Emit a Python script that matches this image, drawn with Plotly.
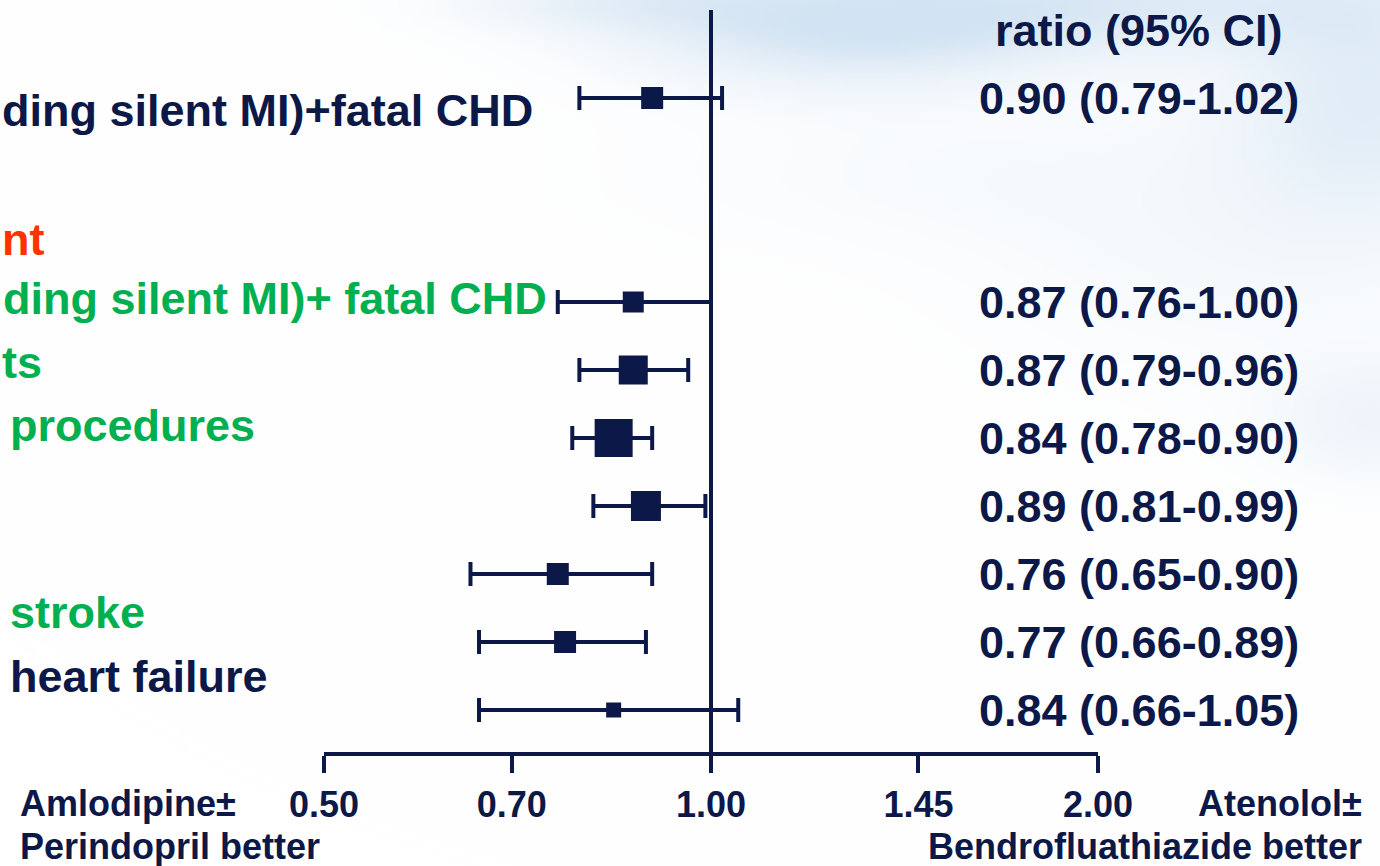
import base64, struct, zlib
import numpy as np
import plotly.graph_objects as go

# ---------------- data ----------------
rows = [
    "Non-fatal MI (including silent MI)+fatal CHD",
    "Non-fatal MI (excluding silent MI)+ fatal CHD",
    "Total coronary events",
    "Total CV events and procedures",
    "All-cause mortality",
    "Cardiovascular mortality",
    "Fatal and non-fatal stroke",
    "Fatal and non-fatal heart failure",
]
hr = [0.90, 0.87, 0.87, 0.84, 0.89, 0.76, 0.77, 0.84]
ci_low = [0.79, 0.76, 0.79, 0.78, 0.81, 0.65, 0.66, 0.66]
ci_high = [1.02, 1.00, 0.96, 0.90, 0.99, 0.90, 0.89, 1.05]
weights = [22, 21, 29, 38, 30, 22, 22, 15]  # relative square sizes
tick_vals = [0.50, 0.70, 1.00, 1.45, 2.00]
tick_text = ["0.50", "0.70", "1.00", "1.45", "2.00"]

# slot order (top to bottom), including header / spacer slots
slots = ["hdr", rows[0], "gap", "sec"] + rows[1:]

NAVY = "#0C1848"
GREEN = "#00B050"
RED = "#FF3300"
FONT = "Liberation Sans, Arial, sans-serif"

W, H = 1380, 866
L, R, T, B = 324, 282, 10, 114


def px_x(px):
    return (px - L) / (W - L - R)


def px_y(py):
    return 1 - (py - T) / (H - T - B)


# ---------------- soft sky background (generated) ----------------
def sky_png():
    sw, sh = 345, 217
    xs = np.linspace(0, W, sw)[None, :]
    ys = np.linspace(0, H, sh)[:, None]
    blobs = [
        (850, 30, 220, 55, 0.55),
        (1100, 0, 300, 50, 0.45),
        (1370, 90, 140, 130, 0.45),
        (620, 0, 160, 30, 0.30),
        (1380, 420, 110, 60, 0.25),
        (1220, 260, 240, 120, 0.12),
        (950, 170, 300, 80, 0.10),
    ]
    inten = np.zeros((sh, sw))
    for cx, cy, sx, sy, a in blobs:
        inten += a * np.exp(-(((xs - cx) / sx) ** 2 + ((ys - cy) / sy) ** 2))
    inten = np.clip(inten, 0, 0.7)
    blue = np.array([192, 216, 238], dtype=float)
    img = 255 * (1 - inten[..., None]) + blue * inten[..., None]
    img = img.astype(np.uint8)
    raw = b"".join(b"\x00" + img[i].tobytes() for i in range(sh))

    def chunk(t, d):
        return struct.pack(">I", len(d)) + t + d + struct.pack(">I", zlib.crc32(t + d) & 0xFFFFFFFF)

    png = (b"\x89PNG\r\n\x1a\n"
           + chunk(b"IHDR", struct.pack(">IIBBBBB", sw, sh, 8, 2, 0, 0, 0))
           + chunk(b"IDAT", zlib.compress(raw, 9))
           + chunk(b"IEND", b""))
    return "data:image/png;base64," + base64.b64encode(png).decode()


fig = go.Figure()

# helper (invisible) trace so every slot exists on the categorical axis
fig.add_trace(go.Scatter(x=[1] * len(slots), y=slots, mode="markers",
                         marker=dict(opacity=0), hoverinfo="skip", showlegend=False))

fig.add_trace(go.Scatter(
    x=hr, y=rows, mode="markers",
    marker=dict(symbol="square", size=weights, color=NAVY, opacity=1, line=dict(width=0)),
    error_x=dict(type="data", symmetric=False,
                 array=[hi - h for h, hi in zip(hr, ci_high)],
                 arrayminus=[h - lo for h, lo in zip(hr, ci_low)],
                 color=NAVY, thickness=4, width=12),
    showlegend=False, cliponaxis=False, opacity=1,
))

# reference line at 1
fig.add_shape(type="line", xref="x", yref="paper", x0=1, x1=1, y0=0, y1=1,
              line=dict(color=NAVY, width=4), layer="above")

ann = []
# right column: ratio text
ann.append(dict(text="ratio (95% CI)", xref="paper", yref="y", x=px_x(1139), y="hdr",
                xanchor="center", yanchor="middle", showarrow=False,
                font=dict(family=FONT, size=45, color=NAVY, weight="bold")))
for name, h, lo, hi in zip(rows, hr, ci_low, ci_high):
    ann.append(dict(text=f"{h:.2f} ({lo:.2f}-{hi:.2f})", xref="paper", yref="y",
                    x=px_x(1139), y=name, xanchor="center", yanchor="middle",
                    showarrow=False,
                    font=dict(family=FONT, size=45, color=NAVY, weight="bold")))

# left labels (visible fragments of the cropped slide)
left_labels = [
    ("ding silent MI)+fatal CHD", 0, 110, NAVY),
    ("nt", 0, 240, RED),
    ("ding silent MI)+ fatal CHD", 1, 298, GREEN),
    ("ts", 0, 362, GREEN),
    ("procedures", 8, 425, GREEN),
    ("stroke", 8, 612, GREEN),
    ("heart failure", 8, 676, NAVY),
]
for txt, xp, yp, col in left_labels:
    ann.append(dict(text=txt, xref="paper", yref="paper", x=px_x(xp), y=px_y(yp),
                    xanchor="left", yanchor="middle", showarrow=False,
                    font=dict(family=FONT, size=45, color=col, weight="bold")))

# bottom direction labels
bottom = [
    ("Amlodipine\u00b1", 18, 804, "left"),
    ("Perindopril better", 18, 846, "left"),
    ("Atenolol\u00b1", 1364, 804, "right"),
    ("Bendrofluathiazide better", 1364, 846, "right"),
]
for txt, xp, yp, anc in bottom:
    ann.append(dict(text=txt, xref="paper", yref="paper", x=px_x(xp), y=px_y(yp),
                    xanchor=anc, yanchor="middle", showarrow=False,
                    font=dict(family=FONT, size=36, color=NAVY, weight="bold")))

k_top = (T - 30) / 68
k_bot = (H - B - 30) / 68

fig.update_layout(
    width=W, height=H,
    margin=dict(l=L, r=R, t=T, b=B, pad=0),
    paper_bgcolor="white", plot_bgcolor="rgba(0,0,0,0)",
    annotations=ann,
    images=[dict(source=sky_png(), xref="paper", yref="paper",
                 x=px_x(0), y=px_y(0), sizex=px_x(W) - px_x(0), sizey=px_y(0) - px_y(H),
                 xanchor="left", yanchor="top", sizing="stretch", layer="below")],
    xaxis=dict(type="log", range=[np.log10(0.5), np.log10(2.0)],
               tickvals=tick_vals, ticktext=tick_text, showgrid=False, zeroline=False,
               showline=True, linecolor=NAVY, linewidth=4,
               ticks="outside", ticklen=17, tickwidth=4, tickcolor=NAVY,
               ticklabelstandoff=1,
               tickfont=dict(family=FONT, size=36, color=NAVY, weight="bold")),
    yaxis=dict(type="category", categoryorder="array", categoryarray=slots,
               range=[k_bot, k_top], showgrid=False, zeroline=False,
               showline=False, showticklabels=False, ticks=""),
)

fig.write_html("out.html")
